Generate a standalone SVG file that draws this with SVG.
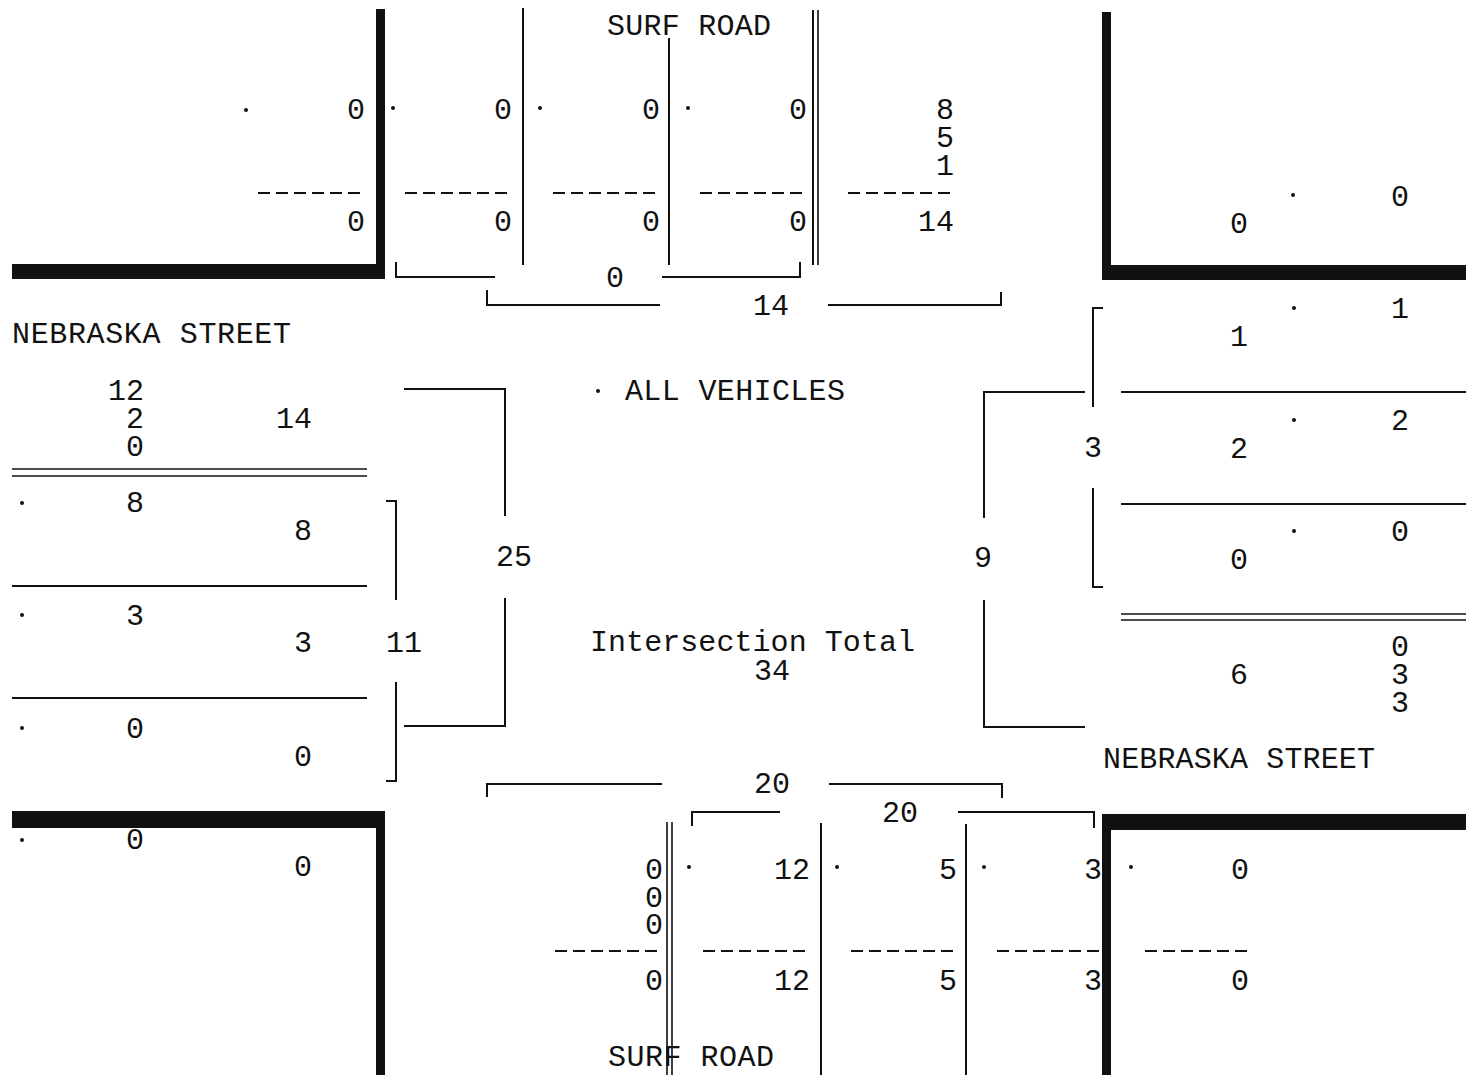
<svg xmlns="http://www.w3.org/2000/svg" width="1483" height="1075" viewBox="0 0 1483 1075">
<style>
text{font-family:"Liberation Mono","Courier New",monospace;font-size:30px;fill:#111}
.e{text-anchor:end}
.m{text-anchor:middle}
.ln{stroke:#111;stroke-width:2;fill:none}
.dl{stroke:#111;stroke-width:1.6;fill:none}
.da{stroke:#111;stroke-width:2;stroke-dasharray:12 6;fill:none}
.w{fill:#111}
.d{fill:#111}
</style>
<rect width="1483" height="1075" fill="#fff"/>
<g id="walls">
<rect class="w" x="12" y="264" width="373" height="15"/>
<rect class="w" x="376" y="9" width="9" height="270"/>
<rect class="w" x="1102" y="265" width="364" height="15"/>
<rect class="w" x="1102" y="12" width="9" height="268"/>
<rect class="w" x="12" y="811" width="373" height="17"/>
<rect class="w" x="376" y="811" width="9" height="264"/>
<rect class="w" x="1102" y="814" width="364" height="16"/>
<rect class="w" x="1102" y="814" width="9" height="261"/>
</g>
<g id="lanes">
<path class="ln" d="M523 8V265M669 38V265M813 10V265M1121 392H1466M1121 504H1466M12 586H367M12 698H367M821 823V1075M966 824V1075"/>
<path class="dl" d="M818 10V265M12 469H367M12 476H367M1121 614H1466M1121 620H1466M667 822V1075M672 822V1075"/>
<path class="da" d="M258 193H363M405 193H510M553 193H658M700 193H805M848 193H952M555 951H661M703 951H808M851 951H955M997 951H1102M1145 951H1248"/>
</g>
<g id="connectors">
<path class="ln" d="M396 262V277H495M662 277H800V262"/>
<path class="ln" d="M487 290V305H660M828 305H1001V292"/>
<path class="ln" d="M386 501H396V600M396 682V781H386"/>
<path class="ln" d="M404 389H505V516M505 598V726H404"/>
<path class="ln" d="M1085 392H984V518M984 600V727H1085"/>
<path class="ln" d="M1103 308H1093V407M1093 488V587H1103"/>
<path class="ln" d="M487 797V784H662M829 784H1002V798"/>
<path class="ln" d="M692 826V812H780M958 812H1094V828"/>
</g>
<g id="labels">
<text x="607" y="35" textLength="164">SURF ROAD</text>
<text x="608" y="1066" textLength="166">SURF ROAD</text>
<text x="12" y="343" textLength="279">NEBRASKA STREET</text>
<text x="1103" y="768" textLength="272">NEBRASKA STREET</text>
<text x="625" y="400" textLength="220">ALL VEHICLES</text>
<text x="590" y="651" textLength="325">Intersection Total</text>
<text class="m" x="772" y="680">34</text>
</g>
<g id="dots">
<circle class="d" cx="246" cy="110" r="2"/>
<circle class="d" cx="393" cy="108" r="2"/>
<circle class="d" cx="540" cy="108" r="2"/>
<circle class="d" cx="688" cy="108" r="2"/>
<circle class="d" cx="598" cy="391" r="2"/>
<circle class="d" cx="22" cy="503" r="2"/>
<circle class="d" cx="22" cy="615" r="2"/>
<circle class="d" cx="22" cy="728" r="2"/>
<circle class="d" cx="22" cy="840" r="2"/>
<circle class="d" cx="1293" cy="195" r="2"/>
<circle class="d" cx="1294" cy="308" r="2"/>
<circle class="d" cx="1294" cy="420" r="2"/>
<circle class="d" cx="1294" cy="531" r="2"/>
<circle class="d" cx="689" cy="867" r="2"/>
<circle class="d" cx="837" cy="867" r="2"/>
<circle class="d" cx="984" cy="867" r="2"/>
<circle class="d" cx="1131" cy="867" r="2"/>
</g>
<g id="north-counts">
<text class="e" x="365" y="119">0</text>
<text class="e" x="512" y="119">0</text>
<text class="e" x="660" y="119">0</text>
<text class="e" x="807" y="119">0</text>
<text class="e" x="954" y="119">8</text>
<text class="e" x="954" y="147">5</text>
<text class="e" x="954" y="175">1</text>
<text class="e" x="365" y="231">0</text>
<text class="e" x="512" y="231">0</text>
<text class="e" x="660" y="231">0</text>
<text class="e" x="807" y="231">0</text>
<text class="e" x="954" y="231">14</text>
<text class="m" x="615" y="287">0</text>
<text class="m" x="771" y="315">14</text>
</g>
<g id="west-counts">
<text class="e" x="144" y="400">12</text>
<text class="e" x="144" y="428">2</text>
<text class="e" x="144" y="456">0</text>
<text class="e" x="312" y="428">14</text>
<text class="e" x="144" y="512">8</text>
<text class="e" x="312" y="540">8</text>
<text class="e" x="144" y="625">3</text>
<text class="e" x="312" y="652">3</text>
<text x="386" y="652">11</text>
<text class="e" x="144" y="738">0</text>
<text class="e" x="312" y="766">0</text>
<text class="m" x="514" y="566">25</text>
<text class="e" x="144" y="849">0</text>
<text class="e" x="312" y="876">0</text>
</g>
<g id="east-counts">
<text class="m" x="1239" y="233">0</text>
<text class="m" x="1400" y="206">0</text>
<text class="m" x="1400" y="318">1</text>
<text class="m" x="1239" y="346">1</text>
<text class="m" x="1400" y="430">2</text>
<text class="m" x="1239" y="458">2</text>
<text class="m" x="1400" y="541">0</text>
<text class="m" x="1239" y="569">0</text>
<text class="m" x="1400" y="656">0</text>
<text class="m" x="1400" y="684">3</text>
<text class="m" x="1400" y="712">3</text>
<text class="m" x="1239" y="684">6</text>
<text class="m" x="1093" y="457">3</text>
<text class="m" x="983" y="567">9</text>
</g>
<g id="south-counts">
<text class="m" x="772" y="793">20</text>
<text class="m" x="900" y="822">20</text>
<text class="e" x="663" y="879">0</text>
<text class="e" x="663" y="907">0</text>
<text class="e" x="663" y="934">0</text>
<text class="e" x="663" y="990">0</text>
<text class="e" x="810" y="879">12</text>
<text class="e" x="957" y="879">5</text>
<text class="e" x="1102" y="879">3</text>
<text class="m" x="1240" y="879">0</text>
<text class="e" x="810" y="990">12</text>
<text class="e" x="957" y="990">5</text>
<text class="e" x="1102" y="990">3</text>
<text class="m" x="1240" y="990">0</text>
</g>
</svg>
